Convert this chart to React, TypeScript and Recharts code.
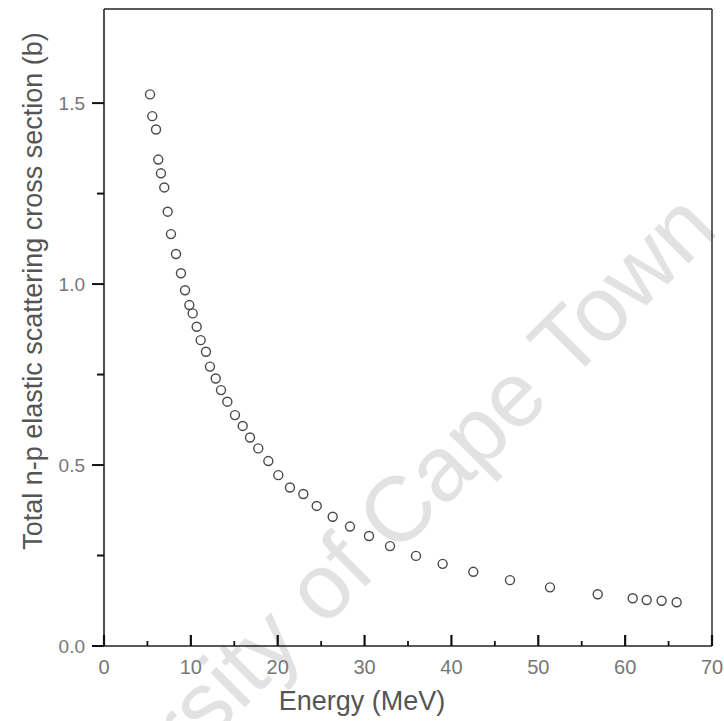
import React from 'react';
import { ScatterChart, Scatter, XAxis, YAxis, ReferenceLine } from 'recharts';

const energy = [5.30, 5.56, 5.99, 6.25, 6.56, 6.94, 7.33, 7.71, 8.29, 8.86, 9.33, 9.82, 10.21, 10.67, 11.13, 11.74, 12.20, 12.86, 13.47, 14.20, 15.08, 15.97, 16.81, 17.76, 18.92, 20.07, 21.41, 22.95, 24.49, 26.33, 28.32, 30.51, 32.93, 35.92, 38.99, 42.52, 46.74, 51.35, 56.84, 60.87, 62.48, 64.2, 65.93];
const sigma = [1.524, 1.464, 1.427, 1.344, 1.306, 1.267, 1.200, 1.138, 1.083, 1.030, 0.983, 0.942, 0.919, 0.882, 0.845, 0.813, 0.772, 0.739, 0.707, 0.675, 0.638, 0.608, 0.576, 0.546, 0.511, 0.472, 0.438, 0.420, 0.387, 0.357, 0.330, 0.304, 0.276, 0.249, 0.227, 0.205, 0.182, 0.162, 0.143, 0.132, 0.127, 0.125, 0.121];
const xTicks = [0, 5, 10, 15, 20, 25, 30, 35, 40, 45, 50, 55, 60, 65, 70];
const yTicks = [0, 0.25, 0.5, 0.75, 1.0, 1.25, 1.5];
const xLabel = 'Energy (MeV)';
const yLabel = 'Total n-p elastic scattering cross section (b)';
const watermark = 'University of Cape Town';

const data = energy.map((e, i) => ({ e, s: sigma[i] }));
const FONT = '"Liberation Sans", Arial, sans-serif';

const YTick = (props: any) => {
  const { x, y, payload } = props;
  const v = payload.value;
  const major = Math.abs(v * 2 - Math.round(v * 2)) < 1e-6;
  return (
    <g>
      <path d={`M${x},${y}H${x - (major ? 12 : 7)}`} style={{ stroke: '#111', strokeWidth: 2, fill: 'none' }} />
      {major && (
        <text x={x - 19} y={y} dy={7} textAnchor="end" fontSize={19} fill="#777" fontFamily={FONT}>
          {v.toFixed(1)}
        </text>
      )}
    </g>
  );
};

const XTick = (props: any) => {
  const { x, y, payload } = props;
  const v = payload.value;
  const major = v % 10 === 0;
  return (
    <g>
      <path d={`M${x},${y}V${y - (major ? 11 : 5)}`} style={{ stroke: '#111', strokeWidth: major ? 2.2 : 1.8, fill: 'none' }} />
      {major && (
        <text x={x} y={y + 28} textAnchor="middle" fontSize={20} fill="#777" fontFamily={FONT}>
          {String(v)}
        </text>
      )}
    </g>
  );
};

const XLab = (props: any) => {
  const vb = props.viewBox;
  return (
    <text x={vb.x + 258} y={vb.y + 64} textAnchor="middle" fontSize={27} fill="#555" fontFamily={FONT}>
      {xLabel}
    </text>
  );
};

const YLab = (props: any) => {
  const vb = props.viewBox;
  const cx = vb.x + 42;
  const cy = vb.y + 282;
  return (
    <text x={cx} y={cy} transform={`rotate(-90, ${cx}, ${cy})`} textAnchor="middle" fontSize={27} fill="#555" fontFamily={FONT}>
      {yLabel}
    </text>
  );
};

const Dot = (props: any) => (
  <circle cx={props.cx} cy={props.cy} r={4.5} fill="none" stroke="#4a4a4a" strokeWidth={1.4} />
);

export default function App() {
  return (
    <div style={{ position: 'absolute', left: 0, top: 0, width: 724, height: 721, background: '#fff' }}>
      <svg width={724} height={721} style={{ position: 'absolute', left: 0, top: 0 }}>
        <text x={20} y={932} transform="rotate(-45, 20, 932)" fontSize={92} fill="#e2e2e2" fontFamily={FONT}>
          {watermark}
        </text>
      </svg>
      <div style={{ position: 'absolute', left: 0, top: 0 }}>
        <ScatterChart width={724} height={721} margin={{ top: 9, right: 12, left: 0, bottom: 0 }}>
          <XAxis
            type="number"
            dataKey="e"
            domain={[0, 70]}
            ticks={xTicks}
            interval={0}
            height={75}
            tickLine={false}
            tickSize={0}
            tickMargin={0}
            tick={XTick}
            axisLine={{ stroke: '#222', strokeWidth: 1.6 }}
            label={<XLab />}
          />
          <YAxis
            type="number"
            dataKey="s"
            domain={[0, 1.76]}
            ticks={yTicks}
            interval={0}
            width={104}
            tickLine={false}
            tickSize={0}
            tickMargin={0}
            tick={YTick}
            axisLine={{ stroke: '#222', strokeWidth: 1.6 }}
            label={<YLab />}
          />
          <ReferenceLine y={1.76} stroke="#222" strokeWidth={1.4} />
          <ReferenceLine x={70} stroke="#222" strokeWidth={1.4} />
          <Scatter data={data} shape={<Dot />} isAnimationActive={false} />
        </ScatterChart>
      </div>
    </div>
  );
}
